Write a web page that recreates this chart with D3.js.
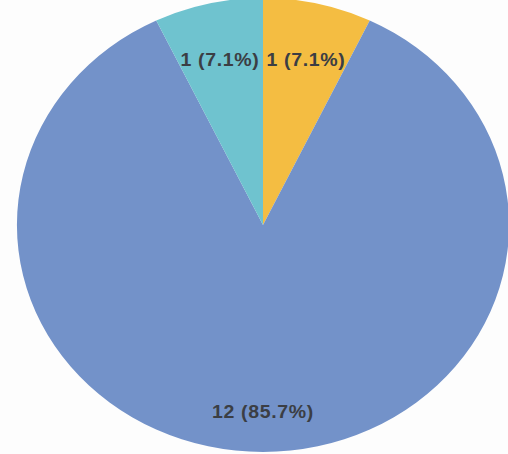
<!DOCTYPE html>
<html>
<head>
<meta charset="utf-8">
<script src="https://cdn.jsdelivr.net/npm/d3@7"></script>
<style>
  html, body { margin: 0; padding: 0; background: #fdfdfd; }
  svg { display: block; }
</style>
</head>
<body>
<div id="pie_chart"></div>
<script>
// values, clockwise from 12 o'clock
const categories = ["Orange", "Blue", "Teal"];
const values = [1, 12, 1];
const colors = ["#f4bd42", "#7392c9", "#6fc3cf"];

const width = 508, height = 454;
const cx = 263, cy = 225;
const radius = 227;
const stretchX = 1.084; // the scanned pie is a bit wider than tall

const svg = d3.select("#pie_chart")
  .append("svg")
  .attr("width", width)
  .attr("height", height);

const g = svg.append("g")
  .attr("transform", `translate(${cx},${cy}) scale(${stretchX},1)`);

const color = d3.scaleOrdinal()
  .domain(categories)
  .range(colors);

const data = categories.map((c, i) => ({ cat: c, value: values[i] }));
const total = d3.sum(values);

const pie = d3.pie()
  .sort(null)
  .value(d => d.value);

const arc = d3.arc()
  .innerRadius(0)
  .outerRadius(radius);

// label ring a bit inside the rim, text hangs below the anchor point
const labelArc = d3.arc()
  .innerRadius(radius * 0.785)
  .outerRadius(radius * 0.785);

const arcs = pie(data);

g.selectAll("path")
  .data(arcs)
  .join("path")
  .attr("d", arc)
  .attr("fill", d => color(d.data.cat));

const pct = d3.format(".1%");

g.selectAll("text")
  .data(arcs)
  .join("text")
  .attr("transform", d => `translate(${labelArc.centroid(d)})`)
  .attr("text-anchor", "middle")
  .attr("dy", "0.8em")
  .style("font-family", "'Liberation Sans', Arial, sans-serif")
  .style("font-weight", "bold")
  .style("font-size", "18px")
  .style("letter-spacing", "0.6px")
  .style("fill", "#3b3e44")
  .text(d => `${d.data.value} (${pct(d.data.value / total)})`);
</script>
</body>
</html>
